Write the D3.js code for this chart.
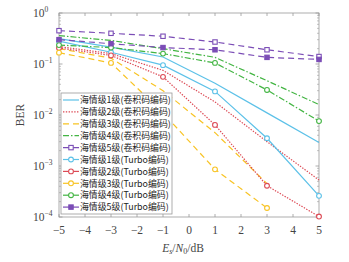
<!DOCTYPE html>
<html lang="zh">
<head>
<meta charset="utf-8">
<title>BER vs Es/N0</title>
<script src="https://cdn.jsdelivr.net/npm/d3@7"></script>
<style>
  body { margin: 0; background: #fff; }
  svg { display: block; }
</style>
</head>
<body>
<script>
// Es/N0 sample points (dB)
const snr = [-5, -3, -1, 1, 3, 5];

// convolutional code, sea state 1..5
const conv1 = [0.315, 0.215, 0.137, 0.042, 0.011, 0.0029];
const conv2 = [0.22, 0.16, 0.075, 0.018, 0.003, 0.00053];
const conv3 = [0.2, 0.13, 0.03, 0.0045, 0.00045, null];
const conv4 = [0.36, 0.29, 0.2, 0.135, 0.047, 0.016];
const conv5 = [0.45, 0.4, 0.35, 0.27, 0.19, 0.14];

// turbo code, sea state 1..5
const turbo1 = [0.28, 0.17, 0.095, 0.029, 0.0035, 0.00026];
const turbo2 = [0.206, 0.147, 0.056, 0.0064, 0.00041, 0.000102];
const turbo3 = [0.167, 0.105, 0.011, 0.00086, 0.00015, null];
const turbo4 = [0.235, 0.21, 0.16, 0.105, 0.031, 0.0076];
const turbo5 = [0.3, 0.25, 0.21, 0.19, 0.135, 0.123];

const legendNames = [
  "海情级1级(卷积码编码)", "海情级2级(卷积码编码)", "海情级3级(卷积码编码)",
  "海情级4级(卷积码编码)", "海情级5级(卷积码编码)",
  "海情级1级(Turbo编码)", "海情级2级(Turbo编码)", "海情级3级(Turbo编码)",
  "海情级4级(Turbo编码)", "海情级5级(Turbo编码)"
];

const xTicks = [-5, -4, -3, -2, -1, 0, 1, 2, 3, 4, 5];
const yTicks = [1, 0.1, 0.01, 0.001, 0.0001];
const yTickExp = ["0", "-1", "-2", "-3", "-4"];

// styles per series
const colors = ["#5cc1e8", "#dc4a55", "#f8c323", "#43b543", "#7b4db6"];
const dashes = [null, "1.4,1.4", "6,4", "6,2,1.5,2", "6,4"];

const series = [
  { v: conv1, c: 0, m: null }, { v: conv2, c: 1, m: null }, { v: conv3, c: 2, m: null },
  { v: conv4, c: 3, m: null }, { v: conv5, c: 4, m: "squareOpen" },
  { v: turbo1, c: 0, m: "circle" }, { v: turbo2, c: 1, m: "circle" }, { v: turbo3, c: 2, m: "circle" },
  { v: turbo4, c: 3, m: "circle" }, { v: turbo5, c: 4, m: "squareFilled" }
];

let w = 349, h = 262;
let pLeft = 59, pRight = 319, pTop = 13, pBottom = 217;

let svg = d3.select("body").append("svg")
  .attr("width", w).attr("height", h);

let x = d3.scaleLinear().domain([-5, 5]).range([pLeft, pRight]);
let y = d3.scaleLog().domain([1e-4, 1]).range([pBottom, pTop]);

// frame
svg.append("rect")
  .attr("x", pLeft).attr("y", pTop)
  .attr("width", pRight - pLeft).attr("height", pBottom - pTop)
  .attr("fill", "none").attr("stroke", "#9a9a9a").attr("stroke-width", 0.8);

// x ticks (inside, top and bottom)
let gx = svg.append("g");
xTicks.forEach(function(t) {
  gx.append("line").attr("x1", x(t)).attr("x2", x(t)).attr("y1", pBottom).attr("y2", pBottom - 3)
    .attr("stroke", "#9a9a9a").attr("stroke-width", 0.8);
  gx.append("line").attr("x1", x(t)).attr("x2", x(t)).attr("y1", pTop).attr("y2", pTop + 3)
    .attr("stroke", "#9a9a9a").attr("stroke-width", 0.8);
  gx.append("text").attr("x", x(t)).attr("y", 234)
    .attr("text-anchor", "middle")
    .attr("font-family", "Liberation Serif, serif").attr("font-size", 11.5)
    .attr("fill", "#444")
    .text(t < 0 ? "\u2212" + Math.abs(t) : t);
});

// y ticks, major + minor (log)
let gy = svg.append("g");
for (let e = -4; e < 0; e++) {
  for (let k = 2; k <= 9; k++) {
    let v = k * Math.pow(10, e);
    gy.append("line").attr("x1", pLeft).attr("x2", pLeft + 2).attr("y1", y(v)).attr("y2", y(v))
      .attr("stroke", "#9a9a9a").attr("stroke-width", 0.6);
    gy.append("line").attr("x1", pRight).attr("x2", pRight - 2).attr("y1", y(v)).attr("y2", y(v))
      .attr("stroke", "#9a9a9a").attr("stroke-width", 0.6);
  }
}
yTicks.forEach(function(t, i) {
  gy.append("line").attr("x1", pLeft).attr("x2", pLeft + 3.5).attr("y1", y(t)).attr("y2", y(t))
    .attr("stroke", "#9a9a9a").attr("stroke-width", 0.8);
  gy.append("line").attr("x1", pRight).attr("x2", pRight - 3.5).attr("y1", y(t)).attr("y2", y(t))
    .attr("stroke", "#9a9a9a").attr("stroke-width", 0.8);
  let lab = gy.append("text").attr("x", 33).attr("y", y(t) + 4)
    .attr("font-family", "Liberation Serif, serif").attr("font-size", 11.5)
    .attr("fill", "#444");
  lab.append("tspan").text("10");
  lab.append("tspan").attr("dy", -5).attr("font-size", 7.5)
    .text(yTickExp[i].replace("-", "\u2212"));
});

// axis titles
svg.append("text")
  .attr("transform", "translate(24," + ((pTop + pBottom) / 2) + ") rotate(-90)")
  .attr("text-anchor", "middle")
  .attr("font-family", "Liberation Serif, serif").attr("font-size", 11.5)
  .attr("fill", "#444").text("BER");

let xl = svg.append("text").attr("x", 183).attr("y", 252)
  .attr("text-anchor", "middle")
  .attr("font-family", "Liberation Serif, serif").attr("font-size", 11.5)
  .attr("fill", "#444");
xl.append("tspan").attr("font-style", "italic").text("E");
xl.append("tspan").attr("font-style", "italic").attr("font-size", 8).attr("dy", 2).text("s");
xl.append("tspan").attr("dy", -2).text("/");
xl.append("tspan").attr("font-style", "italic").text("N");
xl.append("tspan").attr("font-size", 8).attr("dy", 2).text("0");
xl.append("tspan").attr("dy", -2).text("/dB");

// lines
let line = d3.line()
  .defined((d) => d[1] != null)
  .x((d) => x(d[0]))
  .y((d) => y(d[1]));

function drawMarker(g, m, cx, cy, col) {
  if (m === "circle") {
    g.append("circle").attr("cx", cx).attr("cy", cy).attr("r", 2.4)
      .attr("fill", "#fff").attr("stroke", col).attr("stroke-width", 1.1);
  } else if (m === "squareOpen") {
    g.append("rect").attr("x", cx - 2.2).attr("y", cy - 2.2).attr("width", 4.4).attr("height", 4.4)
      .attr("fill", "#fff").attr("stroke", col).attr("stroke-width", 1.1);
  } else if (m === "squareFilled") {
    g.append("rect").attr("x", cx - 2.2).attr("y", cy - 2.2).attr("width", 4.4).attr("height", 4.4)
      .attr("fill", col).attr("stroke", col).attr("stroke-width", 1.1);
  }
}

let plot = svg.append("g");
series.forEach(function(s) {
  let pts = snr.map((d, i) => [d, s.v[i]]);
  plot.append("path").datum(pts)
    .attr("d", line)
    .attr("fill", "none")
    .attr("stroke", colors[s.c])
    .attr("stroke-width", 1.2)
    .attr("stroke-dasharray", dashes[s.c]);
  if (s.m) {
    pts.filter((p) => p[1] != null).forEach(function(p) {
      drawMarker(plot, s.m, x(p[0]), y(p[1]), colors[s.c]);
    });
  }
});

// legend
let lg = svg.append("g");
lg.append("rect").attr("x", 61).attr("y", 93).attr("width", 111).attr("height", 121)
  .attr("fill", "#fff").attr("stroke", "#9a9a9a").attr("stroke-width", 0.8);
series.forEach(function(s, i) {
  let ly = 100 + i * 11.9;
  lg.append("line").attr("x1", 63).attr("x2", 79).attr("y1", ly).attr("y2", ly)
    .attr("stroke", colors[s.c]).attr("stroke-width", 1.2)
    .attr("stroke-dasharray", i < 5 ? dashes[s.c] : null);
  if (s.m) drawMarker(lg, s.m, 71, ly, colors[s.c]);
  lg.append("text").attr("x", 80).attr("y", ly + 3.2)
    .attr("font-family", "Noto Sans CJK SC, sans-serif").attr("font-size", 8.9)
    .attr("fill", "#222")
    .text(legendNames[i]);
});
</script>
</body>
</html>
